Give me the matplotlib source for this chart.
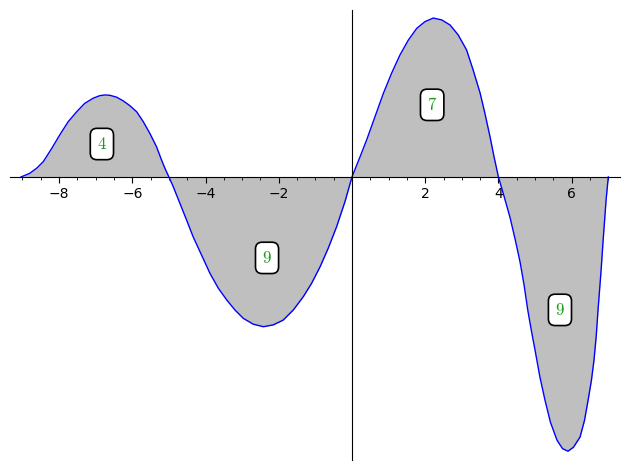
import numpy as np
import matplotlib
matplotlib.use("Agg")
import matplotlib.pyplot as plt
from matplotlib.ticker import MultipleLocator

# curve points
xs = [-9.04, -8.80, -8.61, -8.43, -8.20, -7.98, -7.75, -7.52, -7.30, -7.07, -6.89,
      -6.75, -6.61, -6.43, -6.25, -6.07, -5.88, -5.70, -5.52, -5.34, -5.20, -5.11, -5.0,
      -4.88, -4.70, -4.52, -4.34, -4.11, -3.88, -3.65, -3.42, -3.20, -2.97, -2.70,
      -2.42, -2.15, -1.88, -1.60, -1.33, -1.10, -0.87, -0.65, -0.42, -0.19, 0.0,
      0.22, 0.40, 0.63, 0.86, 1.08, 1.31, 1.54, 1.77, 1.99, 2.22, 2.45, 2.68,
      2.90, 3.13, 3.31, 3.50, 3.63, 3.77, 3.88, 4.0,
      4.16, 4.32, 4.46, 4.59, 4.70, 4.80, 4.90, 5.00, 5.13, 5.27, 5.42, 5.60,
      5.75, 5.90, 6.05, 6.23, 6.35, 6.45, 6.54, 6.61, 6.67, 6.72, 6.80, 6.86, 6.94, 7.0]
ys = [0.0, 0.10, 0.24, 0.42, 0.78, 1.15, 1.51, 1.78, 2.01, 2.15, 2.22,
      2.24, 2.23, 2.18, 2.08, 1.95, 1.78, 1.51, 1.19, 0.83, 0.46, 0.24, 0.0,
      -0.27, -0.72, -1.17, -1.63, -2.13, -2.63, -3.04, -3.36, -3.63, -3.86, -4.02,
      -4.09, -4.04, -3.91, -3.63, -3.27, -2.90, -2.45, -1.95, -1.36, -0.67, 0.0,
      0.55, 1.01, 1.65, 2.29, 2.83, 3.33, 3.74, 4.06, 4.24, 4.34, 4.29, 4.15,
      3.88, 3.47, 2.92, 2.29, 1.74, 1.10, 0.55, 0.0,
      -0.55, -1.12, -1.72, -2.32, -2.95, -3.63, -4.20, -4.73, -5.45, -6.09, -6.70, -7.19,
      -7.42, -7.49, -7.38, -7.10, -6.65, -6.09, -5.55, -5.00, -4.35, -3.63, -2.60, -1.72, -0.63, 0.0]

# boxed labels
lab_x = [-6.83, -2.32, 2.19, 5.68]
lab_y = [0.90, -2.21, 1.97, -3.63]
lab_txt = ["4", "9", "7", "9"]

plt.rcParams['mathtext.fontset'] = 'cm'

fig = plt.figure(figsize=(6.3, 4.7), dpi=100)
ax = fig.add_axes([10/630, 10/470, 610/630, 450/470])

ax.fill_between(xs, ys, 0, color='#bfbfbf', lw=0)
ax.plot(xs, ys, color='blue', lw=1)

for x, y, t in zip(lab_x, lab_y, lab_txt):
    ax.text(x, y, '$' + t + '$', color='#1a9a1a', fontsize=12, ha='center', va='center',
            bbox=dict(boxstyle='round,pad=0.4', fc='white', ec='black', lw=1.2))

ax.set_xlim(-9.34, 7.32)
ax.set_ylim(-7.73, 4.56)
ax.spines['left'].set_position(('data', 0))
ax.spines['bottom'].set_position(('data', 0))
ax.spines['top'].set_visible(False)
ax.spines['right'].set_visible(False)
ax.set_yticks([])
ax.xaxis.set_minor_locator(MultipleLocator(0.5))
ax.set_xticks([-8, -6, -4, -2, 2, 4, 6])
ax.tick_params(axis='x', which='major', length=4, labelsize=10)
ax.tick_params(axis='x', which='minor', length=2)

fig.savefig("out.png", dpi=100)
